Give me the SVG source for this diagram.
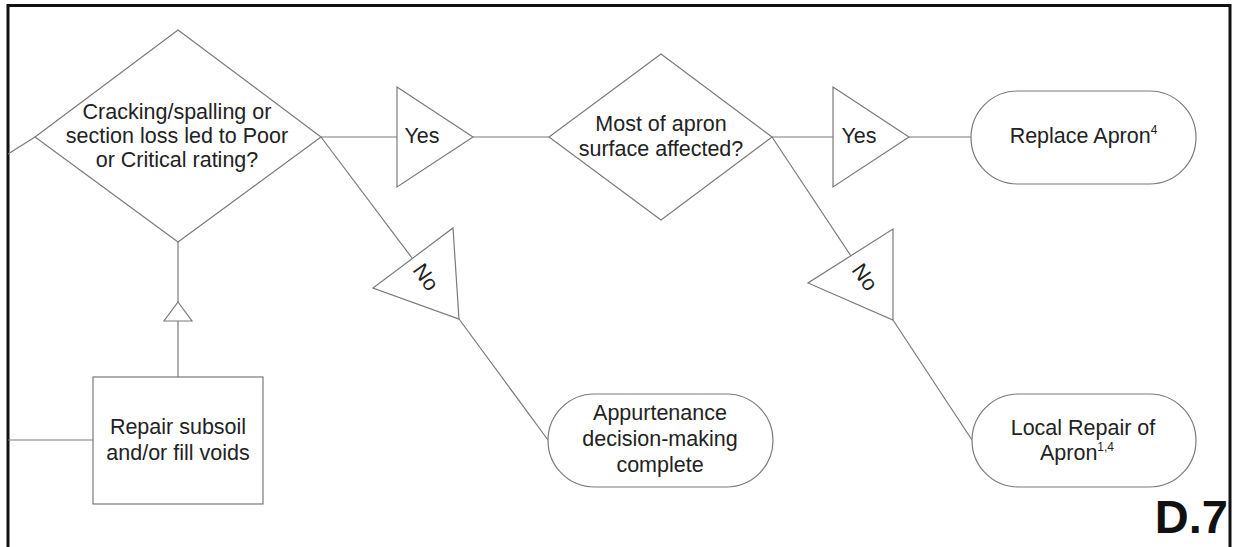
<svg xmlns="http://www.w3.org/2000/svg" width="1233" height="547" viewBox="0 0 1233 547">
<style>
.s{fill:#fff;stroke:#7a7a7a;stroke-width:1.2}
.c{fill:none;stroke:#7a7a7a;stroke-width:1.2}
.t{font-family:"Liberation Sans",Arial,sans-serif;font-size:21.5px;fill:#222;text-anchor:middle}
.sup{font-size:12px}
</style>
<rect width="1233" height="547" fill="#fff"/>
<path d="M8,547 V5.5 H1230 V547" fill="none" stroke="#111" stroke-width="3"/>
<g id="connectors">
<line class="c" x1="8" y1="154" x2="35" y2="137"/>
<line class="c" x1="8" y1="440" x2="93" y2="440"/>
<line class="c" x1="178" y1="242" x2="178" y2="377"/>
<line class="c" x1="321" y1="137" x2="397" y2="137"/>
<line class="c" x1="473" y1="137" x2="549" y2="137"/>
<line class="c" x1="772" y1="137" x2="833" y2="137"/>
<line class="c" x1="909" y1="137" x2="971" y2="137"/>
<line class="c" x1="321" y1="137" x2="412" y2="258"/>
<line class="c" x1="459" y1="319" x2="548" y2="440"/>
<line class="c" x1="772" y1="137" x2="851" y2="256"/>
<line class="c" x1="893" y1="320" x2="972" y2="440"/>
<polygon class="s" points="178,302 192,321 164,321"/>
</g>
<g id="d1">
<polygon class="s" points="178,30 321,137 178,242 35,137"/>
<text class="t" x="177" y="119">Cracking/spalling or</text>
<text class="t" x="177" y="143">section loss led to Poor</text>
<text class="t" x="177" y="167">or Critical rating?</text>
</g>
<g id="yes1">
<polygon class="s" points="397,87 473,137 397,187"/>
<text class="t" x="422" y="143">Yes</text>
</g>
<g id="d2">
<polygon class="s" points="661,54 772,137 661,220 549,137"/>
<text class="t" x="661" y="131">Most of apron</text>
<text class="t" x="661" y="156">surface affected?</text>
</g>
<g id="yes2">
<polygon class="s" points="833,87 909,137 833,187"/>
<text class="t" x="859" y="143">Yes</text>
</g>
<g id="replace">
<rect class="s" x="971" y="91" width="225" height="93" rx="46.5"/>
<text class="t" x="1083.5" y="143">Replace Apron<tspan class="sup" dy="-9">4</tspan></text>
</g>
<g id="no1">
<polygon class="s" points="453,228 459,319 373,288"/>
<text class="t" x="0" y="0" transform="translate(426,277) rotate(55)" dy="7.5">No</text>
</g>
<g id="no2">
<polygon class="s" points="893,229 893,320 808,283"/>
<text class="t" x="0" y="0" transform="translate(865,277) rotate(55)" dy="7.5">No</text>
</g>
<g id="repair">
<rect class="s" x="93" y="377" width="170" height="127"/>
<text class="t" x="178" y="434">Repair subsoil</text>
<text class="t" x="178" y="460">and/or fill voids</text>
</g>
<g id="appurt">
<rect class="s" x="548" y="394" width="225" height="93" rx="46.5"/>
<text class="t" x="660" y="420">Appurtenance</text>
<text class="t" x="660" y="446">decision-making</text>
<text class="t" x="660" y="472">complete</text>
</g>
<g id="local">
<rect class="s" x="972" y="394" width="224" height="93" rx="46.5"/>
<text class="t" x="1083" y="435">Local Repair of</text>
<text class="t" x="1077" y="460">Apron<tspan class="sup" dy="-9">1,4</tspan></text>
</g>
<text x="1228" y="533" font-family="'Liberation Sans',Arial,sans-serif" font-weight="bold" font-size="47" fill="#111" text-anchor="end">D.7</text>
</svg>
